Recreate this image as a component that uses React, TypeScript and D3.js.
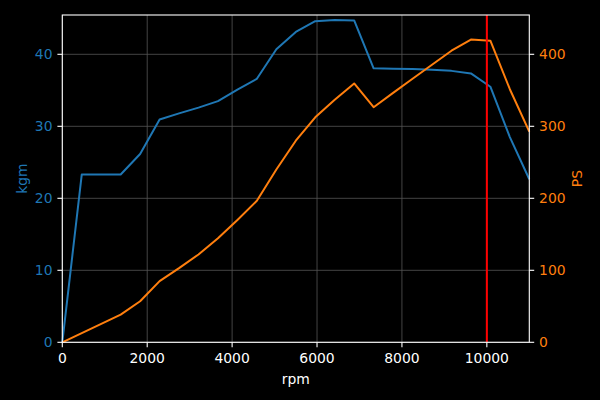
import { useEffect } from 'react';
import * as d3 from 'd3';

// engine speed samples (rpm)
const rpm = [
  0, 458, 917, 1375, 1833, 2292, 2750, 3208, 3667, 4125, 4583, 5042, 5500,
  5958, 6417, 6875, 7333, 7792, 8250, 8708, 9167, 9625, 10083, 10542, 11000,
];
// torque (kgm)
const torque = [
  0, 23.3, 23.3, 23.3, 26.15, 30.95, 31.8, 32.6, 33.5, 35.1, 36.6, 40.7, 43.1,
  44.6, 44.75, 44.7, 38.05, 38.0, 37.95, 37.85, 37.7, 37.35, 35.5, 28.5, 22.65,
];
// power (PS)
const power = [
  0, 12.8, 25.5, 38.5, 57, 85, 103, 122, 144.5, 170, 196.5, 240, 280,
  312.5, 337, 359.5, 326.5, 346.5, 366, 385.5, 405, 420.5, 419, 351.5, 292.5,
];
const xTicks = [0, 2000, 4000, 6000, 8000, 10000];
const kgmTicks = [0, 10, 20, 30, 40];
const psTicks = [0, 100, 200, 300, 400];
const redline = 10000;

const W = 600;
const H = 400;
const M = { left: 62.3, right: 529.3, top: 15, bottom: 342.3 };
const BLUE = '#1f77b4';
const ORANGE = '#ff7f0e';
const FONT = '"DejaVu Sans", sans-serif';
const FS = 13.9;

export default function App() {
  useEffect(() => {
    document.body.style.margin = '0';
    document.body.style.background = '#000';
  }, []);

  const x = d3.scaleLinear().domain([0, 11000]).range([M.left, M.right]);
  const yL = d3.scaleLinear().domain([0, 45.46]).range([M.bottom, M.top]);
  const yR = d3.scaleLinear().domain([0, 454.6]).range([M.bottom, M.top]);

  const kgmLine = d3
    .line<number>()
    .x((_, i) => x(rpm[i]))
    .y((d) => yL(d))(torque);
  const psLine = d3
    .line<number>()
    .x((_, i) => x(rpm[i]))
    .y((d) => yR(d))(power);

  const midY = (M.top + M.bottom) / 2;

  return (
    <svg width={W} height={H} style={{ display: 'block', background: '#000' }} fontFamily={FONT}>
      <rect x={0} y={0} width={W} height={H} fill="#000" />

      {/* grid */}
      {xTicks.map((t) => (
        <line key={'gx' + t} x1={x(t)} x2={x(t)} y1={M.top} y2={M.bottom} stroke="#555" strokeWidth={0.8} />
      ))}
      {kgmTicks.map((t) => (
        <line key={'gy' + t} x1={M.left} x2={M.right} y1={yL(t)} y2={yL(t)} stroke="#555" strokeWidth={0.8} />
      ))}

      <path d={kgmLine ?? ''} fill="none" stroke={BLUE} strokeWidth={2} strokeLinejoin="round" />
      <path d={psLine ?? ''} fill="none" stroke={ORANGE} strokeWidth={2} strokeLinejoin="round" />
      <line x1={x(redline)} x2={x(redline)} y1={M.top} y2={M.bottom} stroke="#ff0000" strokeWidth={2} />

      {/* spines */}
      <rect
        x={M.left}
        y={M.top}
        width={M.right - M.left}
        height={M.bottom - M.top}
        fill="none"
        stroke="#fff"
        strokeWidth={1.1}
      />

      {/* x axis */}
      {xTicks.map((t) => (
        <g key={'xt' + t}>
          <line x1={x(t)} x2={x(t)} y1={M.bottom} y2={M.bottom + 4.9} stroke="#fff" strokeWidth={1.1} />
          <text x={x(t)} y={M.bottom + 9.8} dy="0.76em" textAnchor="middle" fill="#fff" fontSize={FS}>
            {t}
          </text>
        </g>
      ))}
      <text x={(M.left + M.right) / 2} y={373} dy="0.76em" textAnchor="middle" fill="#fff" fontSize={FS}>
        rpm
      </text>

      {/* left axis */}
      {kgmTicks.map((t) => (
        <g key={'yl' + t}>
          <line x1={M.left - 4.9} x2={M.left} y1={yL(t)} y2={yL(t)} stroke="#fff" strokeWidth={1.1} />
          <text x={M.left - 9.8} y={yL(t)} dy="0.36em" textAnchor="end" fill={BLUE} fontSize={FS}>
            {t}
          </text>
        </g>
      ))}
      <text
        transform={`translate(21.5,${midY}) rotate(-90)`}
        dy="0.36em"
        textAnchor="middle"
        fill={BLUE}
        fontSize={FS}
      >
        kgm
      </text>

      {/* right axis */}
      {psTicks.map((t) => (
        <g key={'yr' + t}>
          <line x1={M.right} x2={M.right + 4.9} y1={yR(t)} y2={yR(t)} stroke="#fff" strokeWidth={1.1} />
          <text x={M.right + 9.8} y={yR(t)} dy="0.36em" textAnchor="start" fill={ORANGE} fontSize={FS}>
            {t}
          </text>
        </g>
      ))}
      <text
        transform={`translate(577,${midY}) rotate(-90)`}
        dy="0.36em"
        textAnchor="middle"
        fill={ORANGE}
        fontSize={FS}
      >
        PS
      </text>
    </svg>
  );
}
